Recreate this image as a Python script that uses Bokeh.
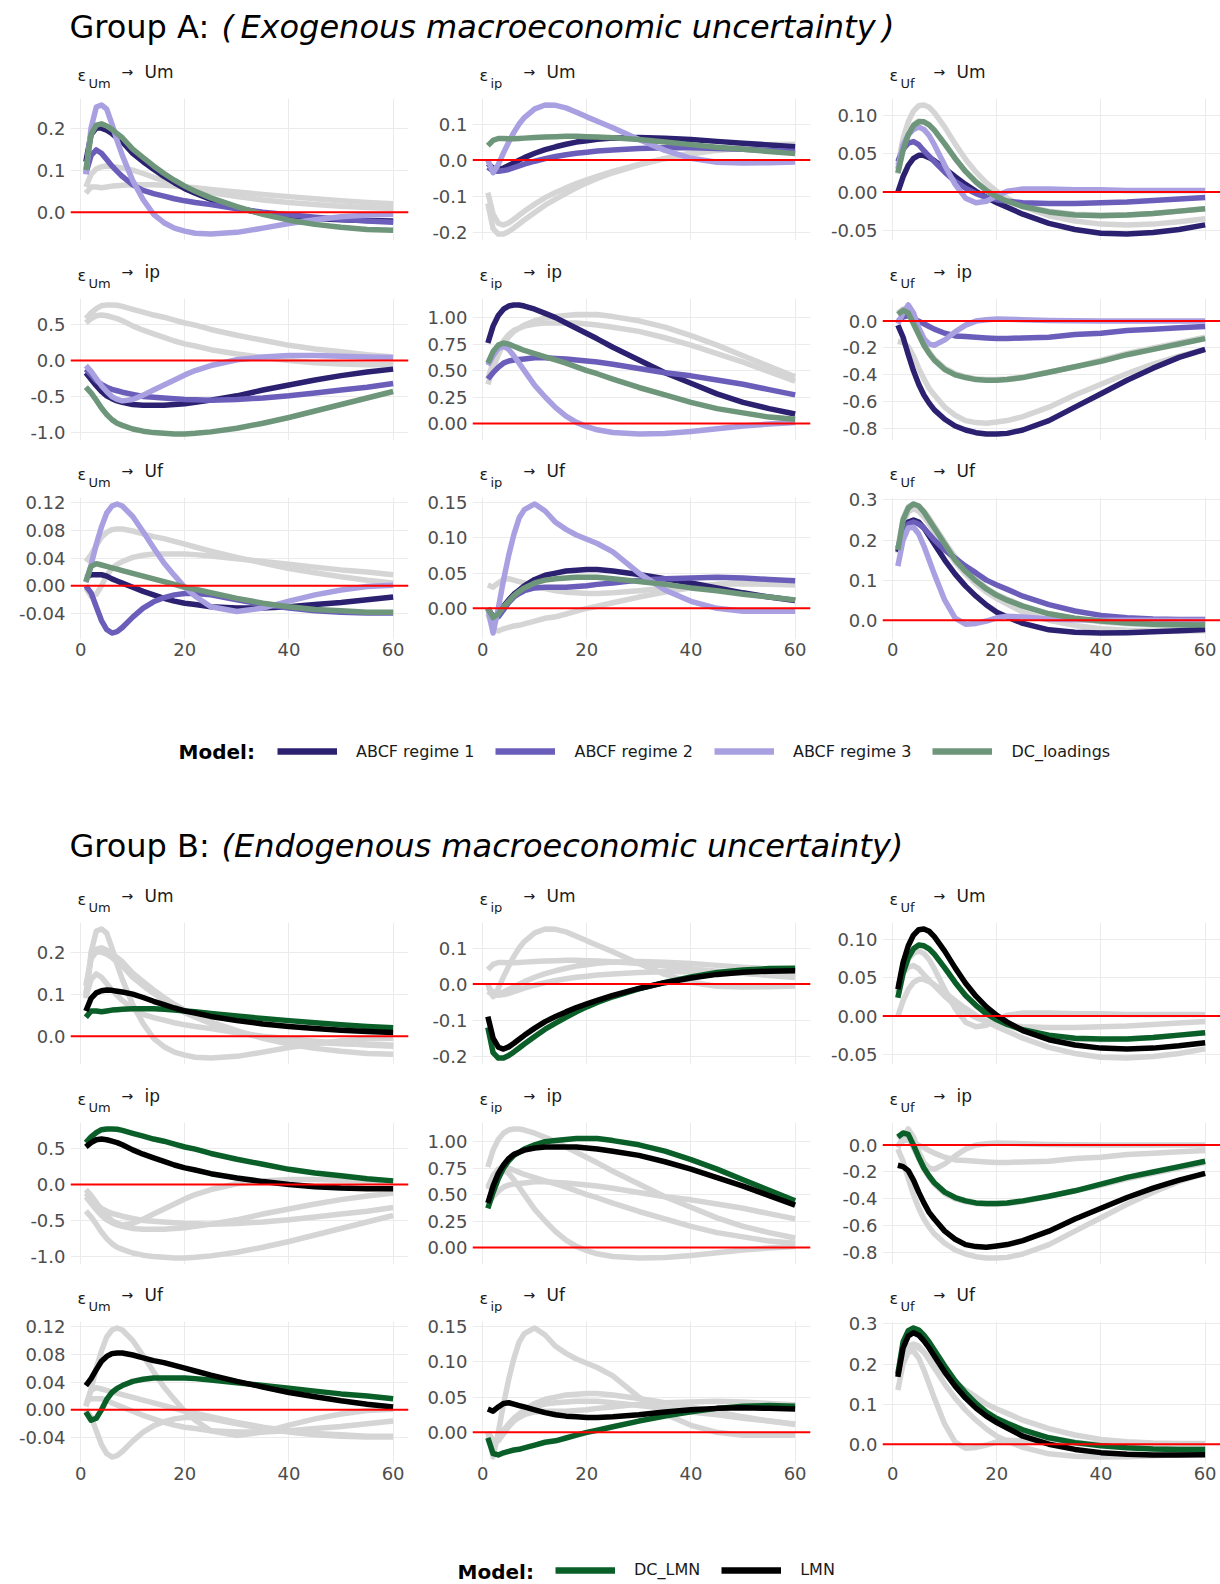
from bokeh.plotting import figure
from bokeh.layouts import column, row
from bokeh.models import Range1d, FixedTicker, Span, Label, Legend, LegendItem
from bokeh.embed import file_html
from bokeh.resources import INLINE

# ---------------- data ----------------
H = [1, 2, 3, 4, 5, 6, 7, 8, 10, 12, 14, 16, 18, 20, 22, 25, 30, 35, 40, 45, 50, 55, 60]
SHOCKS = ["Um", "ip", "Uf"]
RESPONSES = ["Um", "ip", "Uf"]
MODELS = ["ABCF regime 1", "ABCF regime 2", "ABCF regime 3", "DC_loadings", "DC_LMN", "LMN"]
GROUP_A_MODELS = ["ABCF regime 1", "ABCF regime 2", "ABCF regime 3", "DC_loadings"]
GROUP_B_MODELS = ["DC_LMN", "LMN"]
COLORS = {
    "ABCF regime 1": "#2C2170",
    "ABCF regime 2": "#6B5EBA",
    "ABCF regime 3": "#A9A0E1",
    "DC_loadings": "#6E967A",
    "DC_LMN": "#0A5F28",
    "LMN": "#000000",
}
GREY = "#D5D5D5"

ABCF_R1 = {
    "Um>Um": [.12, .185, .2, .2, .195, .187, .177, .167, .14, .12, .102, .085, .07, .056, .045, .03, .01, -.003, -.01, -.015, -.018, -.02, -.021],
    "ip>Um": [-.01, -.022, -.026, -.022, -.015, -.008, 0.0, .007, .019, .029, .037, .044, .05, .054, .058, .061, .063, .061, .057, .052, .047, .042, .037],
    "Uf>Um": [0.0, .02, .035, .044, .048, .048, .045, .041, .031, .02, .01, .001, -.007, -.014, -.02, -.029, -.041, -.049, -.054, -.055, -.053, -.049, -.043],
    "Um>ip": [-.17, -.26, -.35, -.43, -.49, -.53, -.56, -.58, -.61, -.62, -.62, -.62, -.61, -.6, -.58, -.55, -.49, -.41, -.34, -.27, -.21, -.16, -.12],
    "ip>ip": [.76, .92, 1.02, 1.08, 1.11, 1.12, 1.12, 1.11, 1.08, 1.04, 1.0, .95, .9, .85, .8, .72, .6, .48, .38, .28, .2, .14, .09],
    "Uf>ip": [-.03, -.12, -.25, -.37, -.47, -.55, -.61, -.66, -.73, -.78, -.81, -.83, -.84, -.84, -.835, -.81, -.74, -.64, -.54, -.44, -.35, -.27, -.21],
    "Um>Uf": [.012, .016, .016, .016, .014, .01, .007, .004, -.002, -.008, -.013, -.018, -.022, -.025, -.027, -.03, -.032, -.032, -.03, -.027, -.024, -.02, -.016],
    "ip>Uf": [0.0, -.012, -.008, .003, .012, .02, .026, .032, .041, .047, .05, .053, .054, .055, .055, .053, .048, .042, .036, .029, .022, .016, .011],
    "Uf>Uf": [.17, .22, .245, .25, .245, .23, .21, .19, .15, .115, .085, .06, .038, .02, .008, -.008, -.024, -.03, -.032, -.031, -.029, -.026, -.023],
}
ABCF_R2 = {
    "Um>Um": [.092, .135, .148, .14, .125, .11, .097, .085, .065, .052, .044, .038, .032, .027, .023, .018, .008, 0.0, -.006, -.012, -.017, -.021, -.024],
    "ip>Um": [-.02, -.03, -.031, -.029, -.026, -.021, -.016, -.011, -.003, .004, .01, .015, .019, .022, .025, .028, .032, .034, .034, .032, .03, .027, .024],
    "Uf>Um": [.04, .056, .064, .066, .062, .054, .047, .04, .026, .014, .005, -.002, -.007, -.01, -.012, -.014, -.015, -.015, -.014, -.013, -.011, -.009, -.007],
    "Um>ip": [-.12, -.2, -.28, -.33, -.37, -.4, -.42, -.44, -.47, -.5, -.51, -.52, -.53, -.54, -.545, -.55, -.54, -.52, -.49, -.45, -.41, -.37, -.32],
    "ip>ip": [.42, .48, .53, .57, .59, .6, .605, .61, .62, .62, .615, .61, .6, .59, .58, .56, .52, .48, .45, .41, .37, .32, .27],
    "Uf>ip": [0.0, .03, .04, .02, 0.0, -.02, -.04, -.06, -.09, -.11, -.115, -.12, -.125, -.13, -.13, -.125, -.12, -.1, -.09, -.07, -.06, -.05, -.04],
    "Um>Uf": [0.0, -.01, -.03, -.05, -.063, -.068, -.066, -.06, -.045, -.032, -.023, -.017, -.013, -.011, -.011, -.013, -.02, -.027, -.032, -.036, -.038, -.039, -.039],
    "ip>Uf": [0.0, -.012, -.012, -.002, .008, .016, .021, .025, .029, .03, .03, .03, .031, .032, .034, .036, .04, .042, .043, .044, .043, .041, .039],
    "Uf>Uf": [.18, .22, .24, .245, .24, .23, .215, .2, .175, .155, .135, .118, .1, .088, .077, .06, .039, .023, .012, .006, .003, .002, .002],
}
ABCF_R3 = {
    "Um>Um": [.09, .2, .25, .255, .245, .21, .17, .135, .075, .03, -.005, -.025, -.038, -.045, -.05, -.052, -.048, -.038, -.027, -.018, -.011, -.007, -.005],
    "ip>Um": [0.0, -.035, -.012, .02, .05, .077, .1, .118, .142, .153, .152, .145, .133, .12, .108, .09, .057, .027, .005, -.006, -.008, -.007, -.005],
    "Uf>Um": [.03, .062, .075, .082, .085, .082, .074, .062, .035, .01, -.008, -.014, -.012, -.005, .001, .004, .004, .003, .003, .002, .002, .002, .002],
    "Um>ip": [-.07, -.15, -.25, -.35, -.43, -.5, -.54, -.56, -.54, -.48, -.41, -.34, -.27, -.2, -.14, -.07, .01, .05, .07, .07, .06, .05, .04],
    "ip>ip": [.55, .64, .71, .73, .7, .64, .57, .5, .36, .25, .15, .07, .01, -.03, -.06, -.085, -.1, -.095, -.075, -.05, -.025, -.005, .01],
    "Uf>ip": [-.02, .06, .12, .06, -.05, -.13, -.17, -.18, -.14, -.08, -.03, 0.0, .01, .015, .013, .01, .005, .002, 0.0, 0.0, 0.0, 0.0, 0.0],
    "Um>Uf": [.005, .03, .06, .085, .105, .115, .118, .115, .1, .078, .055, .033, .015, -.002, -.015, -.03, -.037, -.032, -.022, -.013, -.006, -.001, .001],
    "ip>Uf": [0.0, -.035, 0.0, .04, .075, .105, .128, .14, .148, .138, .122, .112, .104, .098, .092, .08, .05, .026, .01, 0.0, -.004, -.004, -.004],
    "Uf>Uf": [.135, .2, .23, .232, .215, .185, .15, .115, .05, .005, -.01, -.008, -.002, .006, .01, .008, .003, .001, 0.0, 0.0, 0.0, 0.0, 0.0],
}
DC_LOADINGS = {
    "Um>Um": [.1, .185, .207, .21, .205, .197, .187, .177, .15, .13, .11, .092, .076, .062, .05, .034, .013, -.005, -.019, -.029, -.036, -.041, -.043],
    "ip>Um": [.04, .055, .06, .06, .059, .059, .06, .061, .063, .064, .065, .066, .066, .065, .064, .062, .057, .05, .043, .036, .03, .024, .018],
    "Uf>Um": [.025, .055, .075, .087, .092, .092, .088, .081, .063, .044, .027, .013, .002, -.006, -.012, -.019, -.026, -.03, -.031, -.03, -.028, -.025, -.022],
    "Um>ip": [-.37, -.45, -.55, -.66, -.75, -.82, -.87, -.9, -.95, -.98, -1.0, -1.01, -1.02, -1.02, -1.01, -.99, -.94, -.87, -.79, -.7, -.61, -.52, -.43],
    "ip>ip": [.57, .68, .74, .76, .75, .73, .71, .69, .66, .63, .6, .57, .535, .5, .47, .42, .34, .27, .2, .14, .1, .06, .04],
    "Uf>ip": [.05, .08, .06, -.02, -.1, -.18, -.24, -.29, -.36, -.4, -.42, -.435, -.44, -.44, -.435, -.42, -.38, -.34, -.3, -.25, -.21, -.17, -.13],
    "Um>Uf": [.006, .028, .032, .03, .028, .026, .024, .022, .018, .014, .01, .006, .002, -.002, -.005, -.01, -.018, -.025, -.03, -.034, -.036, -.038, -.038],
    "ip>Uf": [0.0, -.013, -.008, .002, .01, .018, .024, .029, .036, .04, .042, .043, .044, .044, .044, .042, .038, .034, .029, .025, .02, .016, .012],
    "Uf>Uf": [.175, .25, .28, .29, .285, .27, .25, .23, .19, .15, .122, .098, .078, .062, .05, .035, .016, .005, -.002, -.007, -.01, -.011, -.012],
}
DC_LMN = {
    "Um>Um": [.045, .06, .06, .058, .06, .062, .063, .064, .065, .065, .065, .064, .062, .06, .058, .054, .048, .042, .037, .032, .027, .023, .02],
    "ip>Um": [-.12, -.19, -.205, -.205, -.198, -.188, -.177, -.166, -.145, -.125, -.108, -.092, -.077, -.063, -.051, -.035, -.013, .005, .02, .032, .039, .043, .044],
    "Uf>Um": [.024, .056, .076, .088, .093, .092, .088, .081, .063, .044, .027, .014, .003, -.005, -.011, -.018, -.025, -.029, -.03, -.03, -.028, -.025, -.022],
    "Um>ip": [.58, .66, .72, .76, .77, .77, .765, .75, .71, .67, .63, .6, .56, .52, .49, .43, .35, .28, .21, .16, .12, .08, .05],
    "ip>ip": [.37, .52, .65, .75, .82, .87, .9, .93, .97, 1.0, 1.01, 1.02, 1.03, 1.03, 1.03, 1.01, .97, .91, .83, .74, .64, .54, .44],
    "Uf>ip": [.06, .09, .08, 0.0, -.09, -.17, -.23, -.28, -.35, -.39, -.415, -.43, -.435, -.435, -.43, -.415, -.38, -.34, -.29, -.24, -.2, -.16, -.12],
    "Um>Uf": [-.003, -.015, -.012, 0.0, .015, .025, .031, .035, .041, .044, .046, .046, .046, .046, .045, .043, .039, .035, .031, .027, .023, .02, .016],
    "ip>Uf": [-.008, -.03, -.032, -.029, -.027, -.025, -.024, -.022, -.018, -.014, -.012, -.008, -.004, 0.0, .003, .008, .016, .023, .029, .034, .037, .038, .037],
    "Uf>Uf": [.175, .255, .283, .29, .285, .272, .255, .235, .195, .158, .128, .102, .08, .064, .052, .036, .016, .004, -.004, -.009, -.012, -.013, -.013],
}
LMN = {
    "Um>Um": [.06, .09, .103, .108, .11, .109, .107, .105, .1, .092, .083, .075, .067, .06, .055, .047, .037, .029, .023, .018, .014, .011, .009],
    "ip>Um": [-.09, -.15, -.175, -.18, -.174, -.164, -.153, -.142, -.122, -.104, -.09, -.077, -.065, -.055, -.045, -.031, -.012, .004, .017, .027, .033, .036, .037],
    "Uf>Um": [.035, .07, .092, .106, .113, .114, .111, .104, .085, .063, .043, .026, .012, .001, -.008, -.019, -.031, -.038, -.042, -.043, -.042, -.039, -.035],
    "Um>ip": [.52, .58, .62, .63, .62, .6, .58, .55, .48, .42, .37, .32, .27, .23, .2, .15, .09, .04, 0.0, -.03, -.05, -.06, -.06],
    "ip>ip": [.42, .58, .7, .78, .84, .88, .9, .92, .94, .95, .95, .95, .95, .94, .93, .91, .87, .81, .74, .66, .58, .49, .4],
    "Uf>ip": [-.15, -.16, -.19, -.26, -.35, -.43, -.5, -.55, -.64, -.7, -.74, -.755, -.76, -.75, -.74, -.71, -.64, -.55, -.47, -.39, -.32, -.26, -.21],
    "Um>Uf": [.035, .045, .058, .07, .077, .081, .082, .082, .079, .075, .071, .068, .064, .06, .056, .05, .041, .033, .025, .019, .013, .008, .004],
    "ip>Uf": [.033, .03, .036, .041, .042, .04, .038, .036, .032, .028, .025, .023, .022, .021, .021, .022, .025, .029, .032, .034, .035, .034, .033],
    "Uf>Uf": [.168, .24, .27, .278, .272, .258, .24, .22, .18, .145, .115, .09, .07, .054, .04, .02, 0.0, -.013, -.021, -.025, -.027, -.027, -.026],
}
SERIES = {
    "ABCF regime 1": ABCF_R1, "ABCF regime 2": ABCF_R2, "ABCF regime 3": ABCF_R3,
    "DC_loadings": DC_LOADINGS, "DC_LMN": DC_LMN, "LMN": LMN,
}

X_TICKS = [0, 20, 40, 60]
Y_TICKS = {
    "Um>Um": [0.0, 0.1, 0.2],
    "ip>Um": [-0.2, -0.1, 0.0, 0.1],
    "Uf>Um": [-0.05, 0.0, 0.05, 0.10],
    "Um>ip": [-1.0, -0.5, 0.0, 0.5],
    "ip>ip": [0.0, 0.25, 0.5, 0.75, 1.0],
    "Uf>ip": [-0.8, -0.6, -0.4, -0.2, 0.0],
    "Um>Uf": [-0.04, 0.0, 0.04, 0.08, 0.12],
    "ip>Uf": [0.0, 0.05, 0.10, 0.15],
    "Uf>Uf": [0.0, 0.1, 0.2, 0.3],
}
Y_TICK_LABELS = {
    "Um>Um": ["0.0", "0.1", "0.2"],
    "ip>Um": ["-0.2", "-0.1", "0.0", "0.1"],
    "Uf>Um": ["-0.05", "0.00", "0.05", "0.10"],
    "Um>ip": ["-1.0", "-0.5", "0.0", "0.5"],
    "ip>ip": ["0.00", "0.25", "0.50", "0.75", "1.00"],
    "Uf>ip": ["-0.8", "-0.6", "-0.4", "-0.2", "0.0"],
    "Um>Uf": ["-0.04", "0.00", "0.04", "0.08", "0.12"],
    "ip>Uf": ["0.00", "0.05", "0.10", "0.15"],
    "Uf>Uf": ["0.0", "0.1", "0.2", "0.3"],
}

# ---------------- layout / style ----------------
FONT = "DejaVu Sans"
TOTAL_W = 1220
COL_W = [420, 400, 400]
COL_L = [70, 52, 62]
COL_R = [12, 10, 0]
PANEL_TOP = 8
ROW_STRIP = [40, 40, 39]
ROW_FRAME = [142, 142, 142]
ROW_BOT = [10, 10, 36]
LINE_W = 5.5
MID = 0.3  # text drawn with a "middle" baseline sits 0.3 em above the alphabetic baseline


def blank_fig(width, height):
    f = figure(width=width, height=height, x_range=Range1d(0, width), y_range=Range1d(0, height),
               output_backend="svg", toolbar_location=None, title=None, min_border=0,
               x_axis_location=None, y_axis_location=None)
    f.grid.visible = False
    f.outline_line_color = None
    f.background_fill_color = "white"
    f.border_fill_color = "white"
    return f


def text_at(f, x, base, text, size, **kw):
    """Place a text whose alphabetic baseline is at `base` (pixels from the figure bottom)."""
    f.add_layout(Label(x=x, y=base + MID * size, text=text, text_font=FONT,
                       text_font_size=f"{size}px", text_baseline="middle", **kw))


def make_strip(r, c):
    f = blank_fig(COL_W[c], ROW_STRIP[r])
    x0 = COL_L[c]
    text_at(f, x0 + 7, 10, "ε", 16, text_color="#1A1A1A")
    text_at(f, x0 + 18, 3, SHOCKS[c], 13, text_color="#1A1A1A")
    f.add_layout(Label(x=x0 + 51, y=19, text="→", text_font=FONT, text_font_size="14px",
                       text_baseline="middle", text_color="#1A1A1A"))
    text_at(f, x0 + 74, 13, RESPONSES[r], 17, text_color="#1A1A1A")
    return f


def make_panel(r, c, highlight):
    key = SHOCKS[c] + ">" + RESPONSES[r]
    allv = [0.0]
    for m in MODELS:
        allv += SERIES[m][key]
    lo, hi = min(allv), max(allv)
    pad = 0.05 * (hi - lo)
    x0, x1 = min(H), max(H)
    xpad = 0.05 * (x1 - x0)
    p = figure(width=COL_W[c], height=PANEL_TOP + ROW_FRAME[r] + ROW_BOT[r],
               x_range=Range1d(x0 - xpad, x1 + xpad), y_range=Range1d(lo - pad, hi + pad),
               output_backend="svg", toolbar_location=None, title=None,
               min_border_left=COL_L[c], min_border_right=COL_R[c],
               min_border_top=PANEL_TOP, min_border_bottom=ROW_BOT[r])
    p.outline_line_color = None
    p.background_fill_color = "white"
    p.border_fill_color = "white"

    p.xaxis.ticker = FixedTicker(ticks=X_TICKS)
    p.xgrid.ticker = FixedTicker(ticks=X_TICKS)
    p.yaxis.ticker = FixedTicker(ticks=Y_TICKS[key])
    p.ygrid.ticker = FixedTicker(ticks=Y_TICKS[key])
    p.yaxis.major_label_overrides = dict(zip(Y_TICKS[key], Y_TICK_LABELS[key]))
    p.grid.grid_line_color = "#EBEBEB"
    p.grid.grid_line_width = 1
    p.axis.axis_line_color = None
    p.axis.major_tick_line_color = None
    p.axis.minor_tick_line_color = None
    p.axis.major_tick_out = 0
    p.axis.major_tick_in = 0
    p.axis.minor_tick_out = 0
    p.axis.minor_tick_in = 0
    p.axis.major_label_text_font = FONT
    p.axis.major_label_text_font_size = "18px"
    p.axis.major_label_text_color = "#4D4D4D"
    p.yaxis.major_label_standoff = 5
    p.xaxis.major_label_standoff = 3
    if r < 2:
        p.xaxis.visible = False

    grey = [m for m in MODELS if m not in highlight]
    for m in grey:
        p.line(H, SERIES[m][key], line_color=GREY, line_width=LINE_W, line_join="round")
    for m in highlight:
        p.line(H, SERIES[m][key], line_color=COLORS[m], line_width=LINE_W, line_join="round")
    p.add_layout(Span(location=0, dimension="width", line_color="#FF0000", line_width=2))
    return p


def title_fig(height, base_y, lead, italic):
    f = blank_fig(TOTAL_W, height)
    text_at(f, 69, base_y, lead, 32, text_color="#000000")
    text_at(f, 221, base_y, italic, 32, text_color="#000000", text_font_style="italic")
    return f


def legend_fig(height, models, model_x, leg_x, center_y, gh):
    f = blank_fig(TOTAL_W, height)
    items = []
    for m in models:
        # legend key renderer, kept outside the visible range
        rr = f.line(x=[-60, -40], y=[-60, -60], line_color=COLORS[m], line_width=6.5)
        items.append(LegendItem(label=m, renderers=[rr]))
    leg = Legend(items=items, orientation="horizontal", location=(leg_x, center_y - gh / 2),
                 glyph_width=60, glyph_height=gh, label_height=gh, label_standoff=19, spacing=21,
                 padding=0, margin=0, border_line_color=None, background_fill_alpha=0,
                 label_text_font=FONT, label_text_font_size="16px", label_text_color="#1A1A1A")
    f.add_layout(leg)
    f.add_layout(Label(x=model_x, y=center_y, text="Model:", text_font=FONT, text_font_size="20px",
                       text_font_style="bold", text_color="#000000", text_baseline="middle"))
    return f


def group(highlight):
    out = []
    for r in range(3):
        out.append(row([make_strip(r, c) for c in range(3)], spacing=0))
        out.append(row([make_panel(r, c, highlight) for c in range(3)], spacing=0))
    return out


layout = column(
    [title_fig(50, 14, "Group A:", "(\u2009Exogenous macroeconomic uncertainty\u2009)")]
    + group(GROUP_A_MODELS)
    + [legend_fig(125, GROUP_A_MODELS, 178, 277, 49, 20)]
    + [title_fig(74, 19, "Group B:", "(Endogenous macroeconomic uncertainty)")]
    + group(GROUP_B_MODELS)
    + [legend_fig(83, GROUP_B_MODELS, 457, 555, 11, 16)],
    spacing=0,
)

open("out.html", "w").write(file_html(layout, INLINE))
